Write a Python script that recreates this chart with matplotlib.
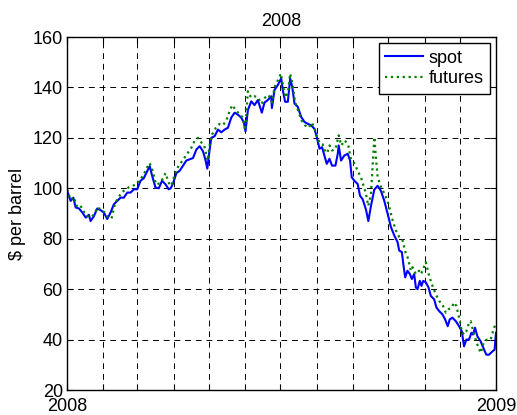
import matplotlib
matplotlib.use("Agg")
import matplotlib.pyplot as plt

plt.rcParams['font.family'] = ['Liberation Sans', 'DejaVu Sans']

# day of year (2008) and price
spot_day = [0, 3.1, 5.4, 7.4, 10.2, 13.1, 15.9, 18.7, 20.1, 23, 25.8, 28.7, 31.5, 34.3,
            37.2, 40, 42.8, 45.7, 48.5, 51.4, 54.2, 57, 59.9, 62.7, 65.5, 68.4, 70.6,
            72.6, 75.5, 78.3, 81.1, 84, 86.8, 88.5, 90.5, 93.3, 96.2, 99, 101.8, 104.7,
            107.5, 110.4, 113.2, 116, 118, 119.7, 121.7, 123.1, 126, 128.8, 131.6, 134.5,
            137.3, 140.1, 143, 145.8, 148.7, 150.9, 152.3, 154.3, 157.2, 160, 162.8, 166.2,
            168.5, 171.3, 174.2, 174.8, 177, 179.9, 182.7, 184.1, 186.1, 188.4, 190.4,
            192.1, 194.1, 196.9, 199.8, 202.6, 205.4, 208.3, 211.1, 213.1, 215.4, 217.6,
            219.6, 221.6, 223.9, 226.1, 229, 231, 231.8, 233.8, 236.6, 239.5, 241.5, 242.9,
            245.1, 248, 250, 252.2, 255.1, 257.1, 259.3, 262.2, 265, 267.8, 270.7, 273.5,
            274.9, 276.3, 279.2, 282, 283.4, 285.7, 287.1, 288.5, 290.5, 292.5, 294.2,
            296.2, 297.6, 299, 301, 302.4, 303.9, 306.1, 308.4, 310.4, 313.2, 315.2, 317.5,
            320.3, 322.6, 324.8, 326.5, 328.8, 331.7, 334.5, 336.8, 338.7, 340.7, 343, 345,
            346.4, 348.1, 350.1, 352.9, 355.8, 357.8, 360, 362.9, 364.8, 366]
spot_price = [99.2, 95, 96.3, 92.4, 92, 90.4, 88.4, 89.5, 87, 89, 92, 91.3, 90.4, 87.8,
              90.4, 93.7, 95, 96.3, 96.3, 98.3, 98.3, 99.6, 99.6, 103, 104, 106.8, 108.8,
              105, 100.3, 100, 103, 101.6, 99.6, 100, 102, 106, 107, 109, 111, 111.5,
              112, 115.4, 116.7, 114.7, 111.5, 107.8, 115.4, 120, 120.7, 123.3, 122.2, 123.3,
              124, 128, 130, 129.2, 128, 126, 122.6, 131, 134.5, 133, 135, 130,
              134, 135, 136.5, 131.8, 139, 141, 143.6, 139, 134.3, 134.3, 143.6,
              140.3, 133.6, 132.3, 128.3, 126.3, 125.6, 125, 123.6, 120.3, 115.7, 116.3,
              113, 109.7, 111.7, 109, 109, 113.7, 117, 111, 113, 113.7, 111, 104.4,
              103, 101.7, 97, 95.7, 91.5, 87, 93, 99.5, 101, 99, 95, 90,
              87.3, 84.7, 81.3, 78.7, 75.3, 74.7, 69.3, 64.7, 67.3, 66, 64,
              66, 60.7, 60, 63.3, 61.3, 63.3, 62.7, 60.7, 57.3, 56, 52.7, 51.3,
              50, 48, 45.3, 48, 48.7, 47.3, 45.3, 43.3, 37.3, 40, 40, 42.7,
              42, 44.7, 41.3, 39.3, 36, 34, 34, 35.3, 36, 42.7]

fut_day = [0, 3, 6, 8, 11, 14, 17, 20, 23, 26, 29, 32, 35, 38, 41, 44, 47, 50, 53, 56, 59,
           62, 65, 68, 70.5, 73, 76, 79, 82, 84, 87, 89, 91, 94, 97, 100, 103, 106, 109,
           111.8, 114, 117, 120, 122, 124, 127, 130, 133, 136, 139, 141, 144, 147, 150, 152,
           154.3, 157, 160, 163, 166, 169, 172, 175, 177, 180, 182.5, 184.5, 186.5, 188.5,
           190.4, 192.5, 194.5, 197, 200, 203, 206, 209, 211, 213, 215.5, 218, 220, 222,
           224, 226, 229, 231.8, 234, 237, 240, 242, 245, 248, 251, 253, 255, 257, 259.3,
           261, 262.2, 263.5, 265, 268, 271, 273.5, 277.8, 280.6, 283.4, 286.3, 289.1,
           290.5, 292, 293.4, 294.8, 297.6, 300.4, 301.9, 303.3, 306.1, 308.9, 311.8, 314.6,
           317.5, 320.3, 323.1, 325.4, 328.2, 330.2, 332.2, 334.5, 336.8, 338.7, 340.7, 343,
           344.4, 347.3, 350.1, 352.9, 355.8, 358.6, 361.4, 364.3, 366]
fut_price = [99.6, 95.5, 96.5, 93, 93.5, 91, 89, 88.5, 89.5, 92.5, 91.5, 90.5, 88.5, 88, 94,
             96.5, 98.5, 99.5, 100.5, 101, 101.5, 103.5, 105, 108, 110, 107, 101.5, 102, 104,
             106, 102, 101, 104, 108, 110, 112, 114, 116, 119, 120, 118.5, 117, 111, 118,
             121.5, 124, 125.5, 125, 127, 131, 133, 131, 129.5, 128, 123, 138.5, 136, 136.5,
             136, 133.5, 136, 137, 134, 140, 143, 145.5, 140, 136, 138, 145.5, 141, 134.5,
             131, 127, 125, 124, 126, 124, 121, 118, 117.5, 115, 114, 117, 115, 115.5, 121,
             117, 119, 117, 112, 110, 107, 104, 101, 98, 93, 97.7, 111, 120.3, 112.3, 104.4,
             100.4, 97.7, 95, 87.3, 83.3, 80.7, 79.3, 74, 72.7, 70, 67.3, 68.7, 66, 67.3, 66,
             67.3, 70.7, 65.3, 61.3, 58, 55.3, 54, 50.7, 52, 52.7, 54.7, 53.3, 48.7, 43.3, 42,
             43.3, 46.7, 47.3, 42, 38, 34.7, 39.3, 40, 40, 44.7, 46]

month_start = [0, 31, 60, 91, 121, 152, 182, 213, 244, 274, 305, 335, 366]
month_labels = ['2008'] + [''] * 11 + ['2009']
y_ticks = [20, 40, 60, 80, 100, 120, 140, 160]

fig = plt.figure(figsize=(5.17, 4.15), dpi=100)
ax = fig.add_axes([0.1296, 0.0602, 0.8298, 0.8506])

ax.plot(spot_day, spot_price, color='#0000ff', lw=1.5, label='spot')
ax.plot(fut_day, fut_price, color='#008000', lw=1.6, ls=':', label='futures')

ax.set_xlim(0, 366)
ax.set_ylim(20, 160)
ax.set_xticks(month_start)
ax.set_xticklabels(month_labels)
ax.set_yticks(y_ticks)
ax.grid(True, color='black', ls=(0, (6, 5)), lw=0.7)
ax.tick_params(direction='in', top=True, right=True, labelsize=13, length=4)
ax.tick_params(axis='y', pad=3)
ax.tick_params(axis='x', pad=6)
for s in ax.spines.values():
    s.set_linewidth(1.0)

ax.set_ylabel('$ per barrel', fontsize=13, labelpad=5)
ax.set_title('2008', fontsize=13, pad=8)
leg = ax.legend(loc='upper right', fontsize=13, fancybox=False, framealpha=1,
                edgecolor='black', handlelength=2.1, borderaxespad=0.35,
                handletextpad=0.3, labelspacing=0.2, borderpad=0.35)
leg.get_frame().set_linewidth(1.0)

fig.savefig('out.png', dpi=100)
